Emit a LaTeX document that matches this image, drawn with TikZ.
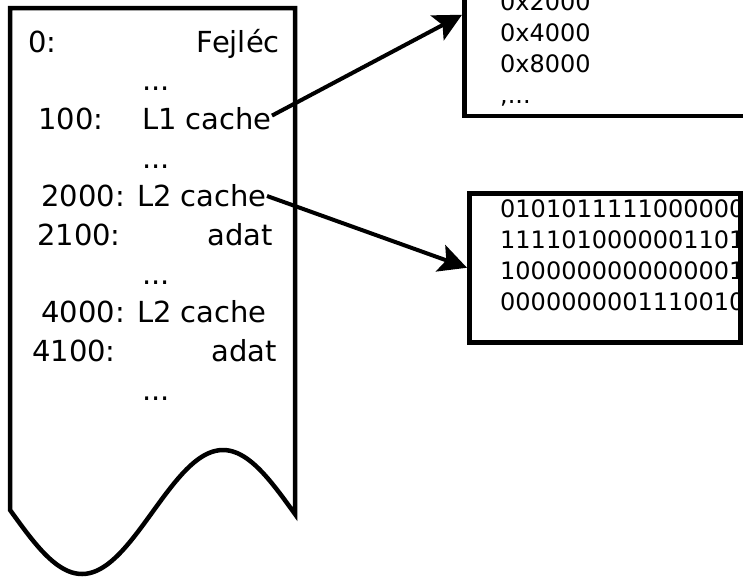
\documentclass[tikz,border=0pt]{standalone}
\usepackage{fontspec}
\setmainfont{DejaVu Sans}
\usetikzlibrary{arrows.meta}

\begin{document}
\begin{tikzpicture}[x=1pt, y=-1pt,
  memtext/.style={inner sep=0pt, font=\fontsize{29}{35}\selectfont},
  boxtext/.style={inner sep=0pt, anchor=base west, font=\fontsize{24}{29}\selectfont},
  ptr/.style={line width=4pt, -{Stealth[length=28pt, width=28pt, inset=6pt]}}]
\useasboundingbox (0,0) rectangle (743,576);
\clip (0,0) rectangle (743,576);
% memory block, torn at the bottom
\draw[line width=4.5pt] plot[domain=10:295, samples=80, smooth] (\x, {512+62*cos(1.2766*(\x-82))})
  -- (295,8) -- (10,8) -- cycle;
\node[memtext, anchor=base west] (a0) at (28,52) {0:};
\node[memtext, anchor=base east] (hdr) at (280,52) {Fejléc};
\node[memtext, anchor=base west] (a100) at (38,129.4) {100:};
\node[memtext, anchor=base east] (l1) at (272,129.4) {L1 cache};
\node[memtext, anchor=base east] (l2a) at (267,206.8) {2000: L2 cache};
\node[memtext, anchor=base west] (a2100) at (37,245.5) {2100:};
\node[memtext, anchor=base east] (d1) at (273,245.5) {adat};
\node[memtext, anchor=base east] (l2b) at (267,322.9) {4000: L2 cache};
\node[memtext, anchor=base west] (a4100) at (32,361.6) {4100:};
\node[memtext, anchor=base east] (d2) at (277,361.6) {adat};
\foreach \y [count=\i] in {90.7, 168.1, 284.2, 400.3}
  \node[memtext, anchor=base] (gap\i) at (156,\y) {...};
% address table
\node[draw, line width=4.5pt, minimum width=320pt, minimum height=202pt, anchor=south west] (addr) at (462,118) {};
\node[boxtext] (adr1) at (500,10) {0x2000};
\node[boxtext] (adr2) at (500,41) {0x4000};
\node[boxtext] (adr3) at (500,72) {0x8000};
\node[boxtext] (adr4) at (500,103) {,...};
% cache content
\node[draw, line width=4.5pt, minimum width=271pt, minimum height=149pt, anchor=north west] (bits) at (467,191) {};
\foreach \b [count=\i] in {0101011111000000, 1111010000001101, 1000000000000001, 0000000001110010}
  \node[boxtext] (row\i) at (500, {186+31*\i}) {\b};
\draw[ptr] ([yshift=3pt]l1.east) -- (addr.west);
\draw[ptr] (l2a.east) -- (bits.west);
\end{tikzpicture}
\end{document}
